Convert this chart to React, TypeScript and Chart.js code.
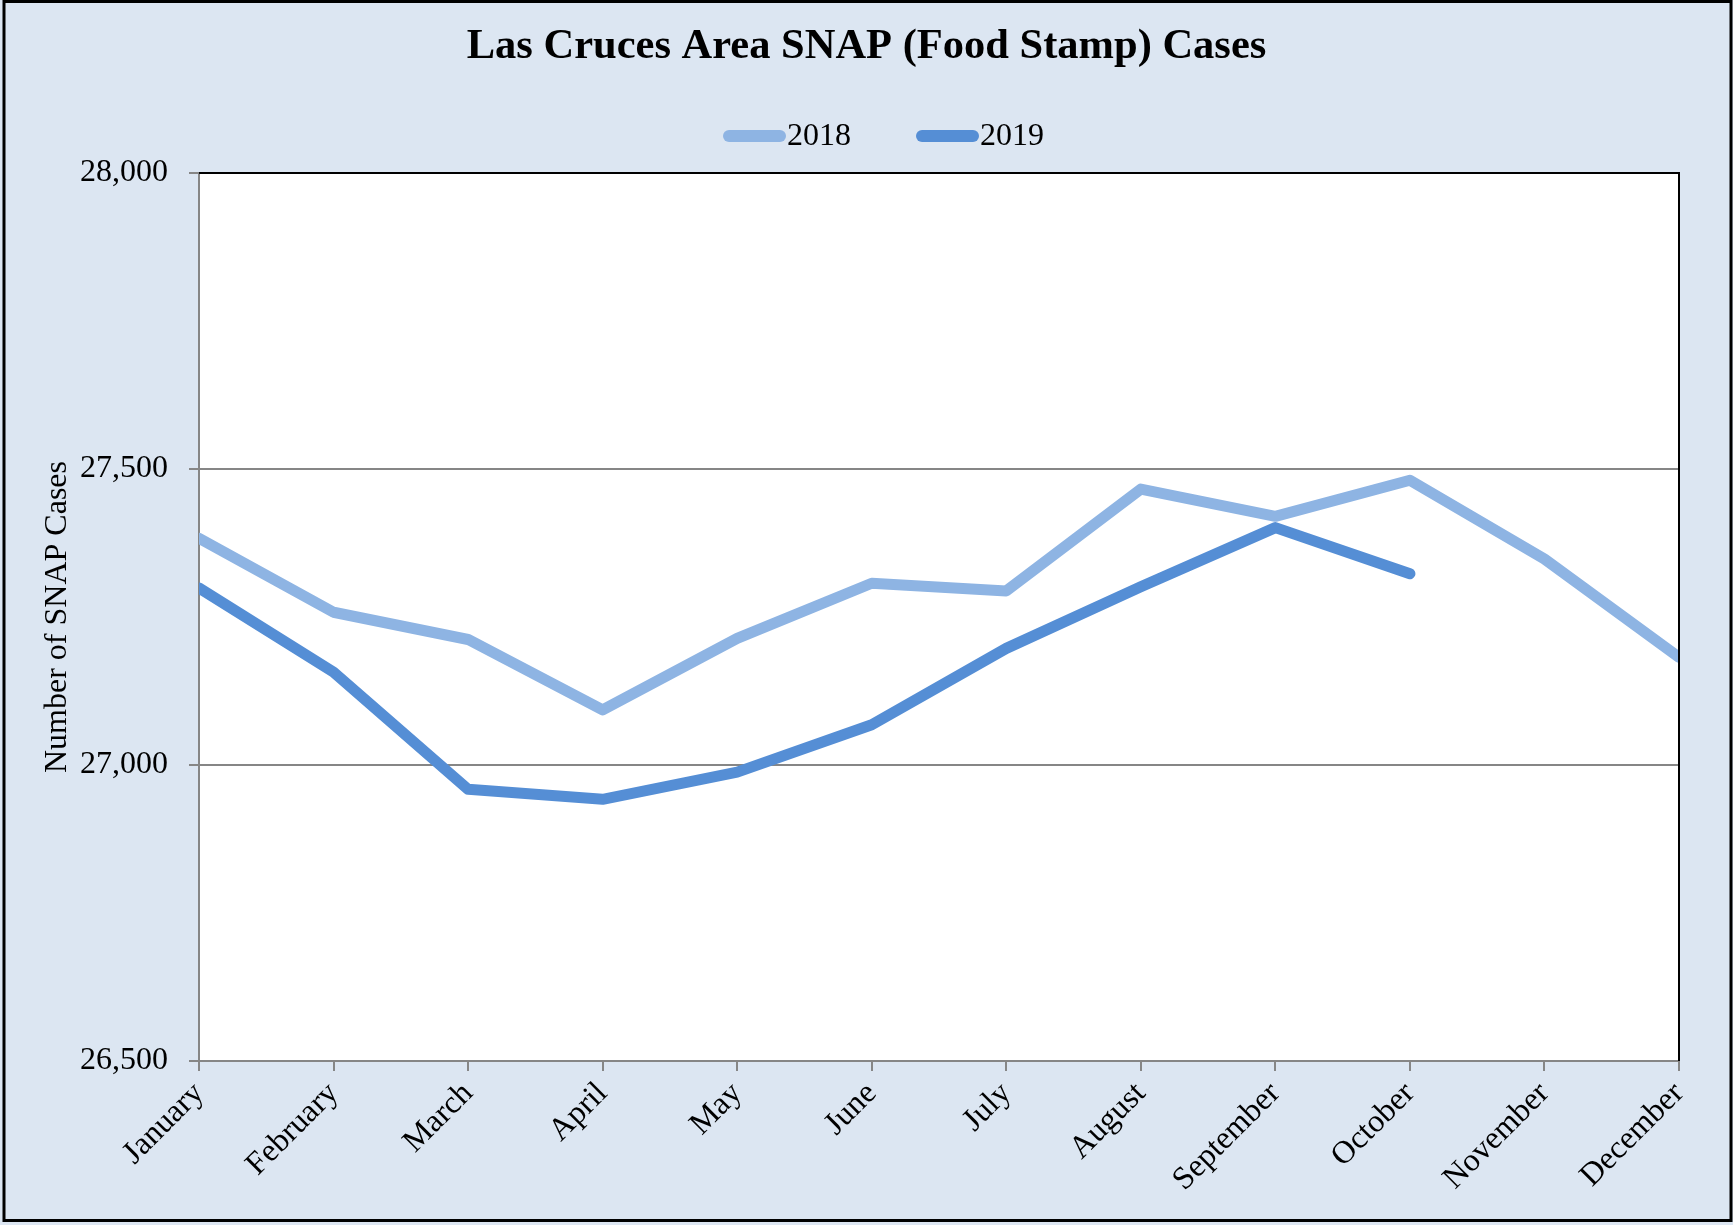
import React, { useEffect, useRef } from "react";
import { Chart, registerables } from "chart.js";

Chart.register(...registerables);

// ---- Data ----
const months = [
  "January", "February", "March", "April", "May", "June",
  "July", "August", "September", "October", "November", "December",
];
const cases2018 = [27383, 27258, 27212, 27093, 27214, 27307, 27294, 27466, 27420, 27481, 27348, 27182];
const cases2019: (number | null)[] = [27299, 27157, 26959, 26942, 26988, 27068, 27197, 27301, 27401, 27323, null, null];
const seriesLabels = ["2018", "2019"];
const yMin = 26500;
const yMax = 28000;
const yStep = 500;

const COLOR_2018 = "#8EB4E3";
const COLOR_2019 = "#558ED5";
const BG = "#DCE6F2";
const GRID = "#868686";
const FONT = '"Liberation Serif", "Times New Roman", serif';

const backgroundPlugin = {
  id: "bgPlugin",
  beforeDraw(chart: any) {
    const { ctx, chartArea } = chart;
    ctx.save();
    ctx.fillStyle = BG;
    ctx.fillRect(0, 0, chart.width, chart.height);
    ctx.fillStyle = "#FFFFFF";
    ctx.fillRect(chartArea.left, chartArea.top, chartArea.right - chartArea.left, chartArea.bottom - chartArea.top);
    ctx.restore();
  },
  afterDatasetsDraw(chart: any) {
    const { ctx, chartArea } = chart;
    ctx.save();
    ctx.strokeStyle = "#000000";
    ctx.lineWidth = 2;
    ctx.beginPath();
    ctx.moveTo(chartArea.left, chartArea.top);
    ctx.lineTo(chartArea.right, chartArea.top);
    ctx.lineTo(chartArea.right, chartArea.bottom);
    ctx.stroke();
    ctx.restore();
  },
  afterDraw(chart: any) {
    const { ctx } = chart;
    ctx.save();
    // outer frame
    ctx.strokeStyle = "#000000";
    ctx.lineWidth = 3;
    ctx.strokeRect(4, 1.5, chart.width - 6, chart.height - 6);
    // legend
    ctx.font = `32px ${FONT}`;
    ctx.textBaseline = "middle";
    ctx.textAlign = "left";
    const items = chart.data.datasets.map((ds: any) => ({
      text: ds.label,
      color: ds.borderColor,
      w: 63 + 1 + ctx.measureText(ds.label).width,
    }));
    const gap = 65;
    const total = items.reduce((s: number, it: any) => s + it.w, 0) + gap * (items.length - 1);
    let x = chart.width / 2 + 17 - total / 2;
    const y = 136;
    items.forEach((it: any) => {
      ctx.strokeStyle = it.color;
      ctx.lineWidth = 12;
      ctx.lineCap = "round";
      ctx.beginPath();
      ctx.moveTo(x + 6, y);
      ctx.lineTo(x + 57, y);
      ctx.stroke();
      ctx.fillStyle = "#000000";
      ctx.fillText(it.text, x + 64, y + 1);
      x += it.w + gap;
    });
    ctx.restore();
  },
};

export default function App() {
  const canvasRef = useRef<HTMLCanvasElement | null>(null);

  useEffect(() => {
    document.body.style.margin = "0";
    const canvas = canvasRef.current;
    if (!canvas) return;
    Chart.defaults.font.family = FONT;
    Chart.defaults.color = "#000000";

    const lineStyle = {
      borderWidth: 11,
      pointRadius: 0,
      pointHoverRadius: 0,
      tension: 0,
      borderJoinStyle: "round" as const,
      borderCapStyle: "round" as const,
      clip: 0,
    };

    const chart = new Chart(canvas, {
      type: "line",
      data: {
        labels: months,
        datasets: [
          {
            label: seriesLabels[0],
            data: cases2018,
            borderColor: COLOR_2018,
            backgroundColor: COLOR_2018,
            ...lineStyle,
          },
          {
            label: seriesLabels[1],
            data: cases2019,
            borderColor: COLOR_2019,
            backgroundColor: COLOR_2019,
            ...lineStyle,
          },
        ],
      },
      options: {
        responsive: false,
        animation: false,
        devicePixelRatio: 1,
        layout: { padding: 0 },
        plugins: {
          legend: { display: false },
          tooltip: { enabled: false },
          title: {
            display: true,
            text: "Las Cruces Area SNAP (Food Stamp) Cases",
            color: "#000000",
            font: { family: FONT, size: 42.5, weight: "bold", lineHeight: 1.2 },
            padding: { top: 22, bottom: 100 },
          },
        },
        scales: {
          x: {
            offset: false,
            afterFit: (scale: any) => {
              scale.height = 164;
            },
            grid: {
              display: true,
              drawOnChartArea: false,
              drawTicks: true,
              tickLength: 10,
              color: GRID,
              lineWidth: 2,
            },
            border: { display: true, color: GRID, width: 2 },
            ticks: {
              autoSkip: false,
              minRotation: 45,
              maxRotation: 45,
              padding: 4,
              color: "#000000",
              font: { family: FONT, size: 32 },
            },
          },
          y: {
            min: yMin,
            max: yMax,
            afterFit: (scale: any) => {
              scale.width = 199;
            },
            grid: {
              display: true,
              drawOnChartArea: true,
              drawTicks: true,
              tickLength: 10,
              color: GRID,
              lineWidth: 2,
            },
            border: { display: true, color: GRID, width: 2 },
            ticks: {
              stepSize: yStep,
              padding: 21,
              color: "#000000",
              font: { family: FONT, size: 32 },
              callback: (v: any) => Number(v).toLocaleString("en-US"),
            },
            title: {
              display: true,
              text: "Number of SNAP Cases",
              color: "#000000",
              font: { family: FONT, size: 32 },
              padding: { top: 38, bottom: 0 },
            },
          },
          ySpacer: {
            position: "right",
            min: yMin,
            max: yMax,
            display: true,
            grid: { display: false, drawTicks: false },
            border: { display: false },
            ticks: { display: false },
            afterFit: (scale: any) => {
              scale.width = 54;
            },
          },
        },
      },
      plugins: [backgroundPlugin],
    });

    return () => {
      chart.destroy();
    };
  }, []);

  return (
    <div style={{ width: 1733, height: 1225, position: "relative" }}>
      <canvas ref={canvasRef} width={1733} height={1225} style={{ display: "block", width: 1733, height: 1225 }} />
    </div>
  );
}
